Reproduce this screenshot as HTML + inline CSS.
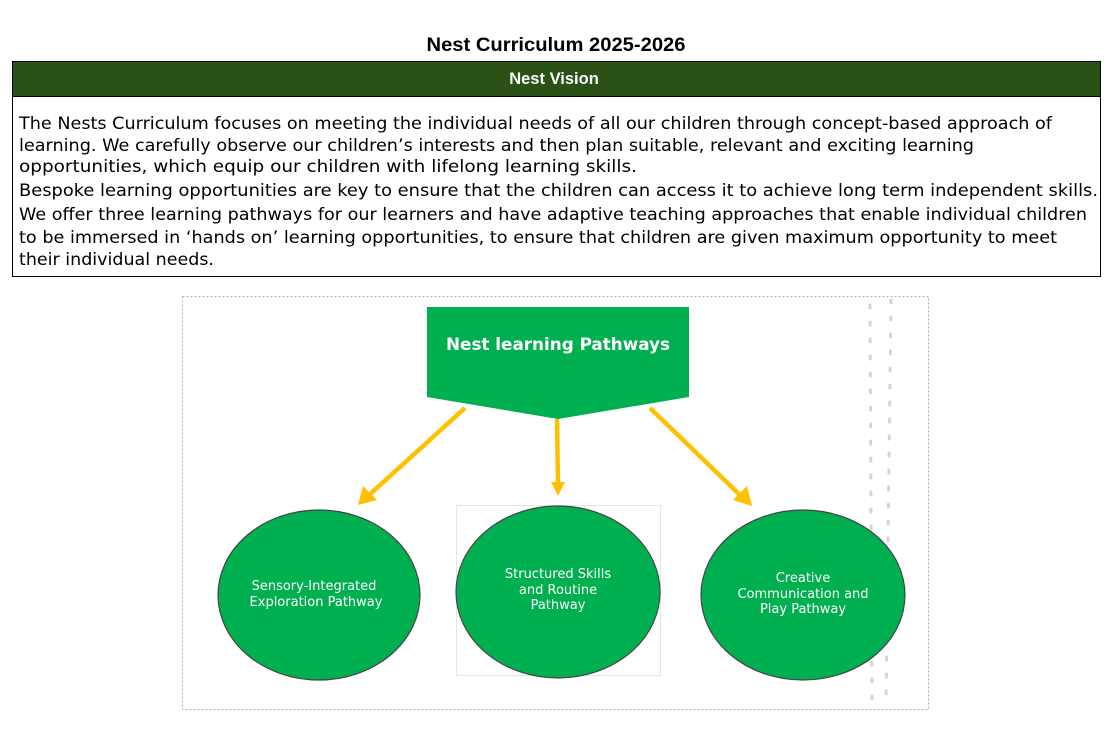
<!DOCTYPE html>
<html><head><meta charset="utf-8"><style>
html,body{margin:0;padding:0;background:#fff;width:1113px;height:730px;overflow:hidden}
svg{display:block}
</style></head><body>
<svg width="1113" height="730" xmlns="http://www.w3.org/2000/svg">
<text x="556" y="51" text-anchor="middle" font-family="Liberation Sans, sans-serif" font-weight="bold" font-size="19.5" fill="#000" textLength="259" lengthAdjust="spacingAndGlyphs">Nest Curriculum 2025-2026</text>
<rect x="12.5" y="61.5" width="1088" height="35" fill="#2a5116" stroke="#000"/>
<text x="554" y="84" text-anchor="middle" font-family="Liberation Sans, sans-serif" font-weight="bold" font-size="16.5" fill="#fff">Nest Vision</text>
<rect x="12.5" y="96.5" width="1088" height="180" fill="#fff" stroke="#000"/>
<g font-family="DejaVu Sans, sans-serif" font-size="17" fill="#000">
<text x="19" y="129" textLength="1033" lengthAdjust="spacingAndGlyphs">The Nests Curriculum focuses on meeting the individual needs of all our children through concept-based approach of</text>
<text x="19" y="151" textLength="955" lengthAdjust="spacingAndGlyphs">learning. We carefully observe our children’s interests and then plan suitable, relevant and exciting learning</text>
<text x="19" y="172" textLength="618" lengthAdjust="spacingAndGlyphs">opportunities, which equip our children with lifelong learning skills.</text>
<text x="19" y="196" textLength="1079" lengthAdjust="spacingAndGlyphs">Bespoke learning opportunities are key to ensure that the children can access it to achieve long term independent skills.</text>
<text x="19" y="220" textLength="1068" lengthAdjust="spacingAndGlyphs">We offer three learning pathways for our learners and have adaptive teaching approaches that enable individual children</text>
<text x="19" y="243" textLength="1038" lengthAdjust="spacingAndGlyphs">to be immersed in ‘hands on’ learning opportunities, to ensure that children are given maximum opportunity to meet</text>
<text x="19" y="265" textLength="195" lengthAdjust="spacingAndGlyphs">their individual needs.</text>
</g>
<rect x="182.5" y="296.5" width="746" height="413" fill="none" stroke="#b0b0b0" stroke-dasharray="2,2"/>
<line x1="870" y1="305" x2="872" y2="705" stroke="#d8d3cf" stroke-width="3" stroke-dasharray="3,14" stroke-linecap="round"/>
<line x1="891" y1="300" x2="886" y2="705" stroke="#d8d3cf" stroke-width="3" stroke-dasharray="3,14" stroke-linecap="round"/>
<polygon points="427,307 689,307 689,397 558,419 427,397" fill="#00b050"/>
<text x="558" y="350" text-anchor="middle" font-family="DejaVu Sans, sans-serif" font-weight="bold" font-size="17" fill="#fff" textLength="224" lengthAdjust="spacingAndGlyphs">Nest learning Pathways</text>
<g stroke="#ffc000" stroke-width="4.5" fill="#ffc000">
<line x1="465" y1="408" x2="368" y2="496"/>
<line x1="557" y1="419" x2="558" y2="484"/>
<line x1="650" y1="408" x2="742" y2="497"/>
</g>
<g fill="#ffc000">
<polygon points="358,505 363,486 377,500"/>
<polygon points="558,496 551,482 565,482"/>
<polygon points="752,506 733,500 747,486"/>
</g>
<rect x="456.5" y="505.5" width="204" height="170" fill="none" stroke="#c8c8c8" stroke-dasharray="1,1"/>
<g fill="#00b050" stroke="#444" stroke-width="1.2">
<ellipse cx="319" cy="595" rx="101" ry="85"/>
<ellipse cx="558" cy="592" rx="102" ry="86"/>
<ellipse cx="803" cy="595" rx="102" ry="85"/>
</g>
<g font-family="DejaVu Sans, sans-serif" font-size="13" fill="#fff" text-anchor="middle">
<text x="314" y="590">Sensory-Integrated</text>
<text x="316" y="606">Exploration Pathway</text>
<text x="558" y="578">Structured Skills</text>
<text x="558" y="594">and Routine</text>
<text x="558" y="609">Pathway</text>
<text x="803" y="582">Creative</text>
<text x="803" y="598">Communication and</text>
<text x="803" y="613">Play Pathway</text>
</g>
</svg>
</body></html>
